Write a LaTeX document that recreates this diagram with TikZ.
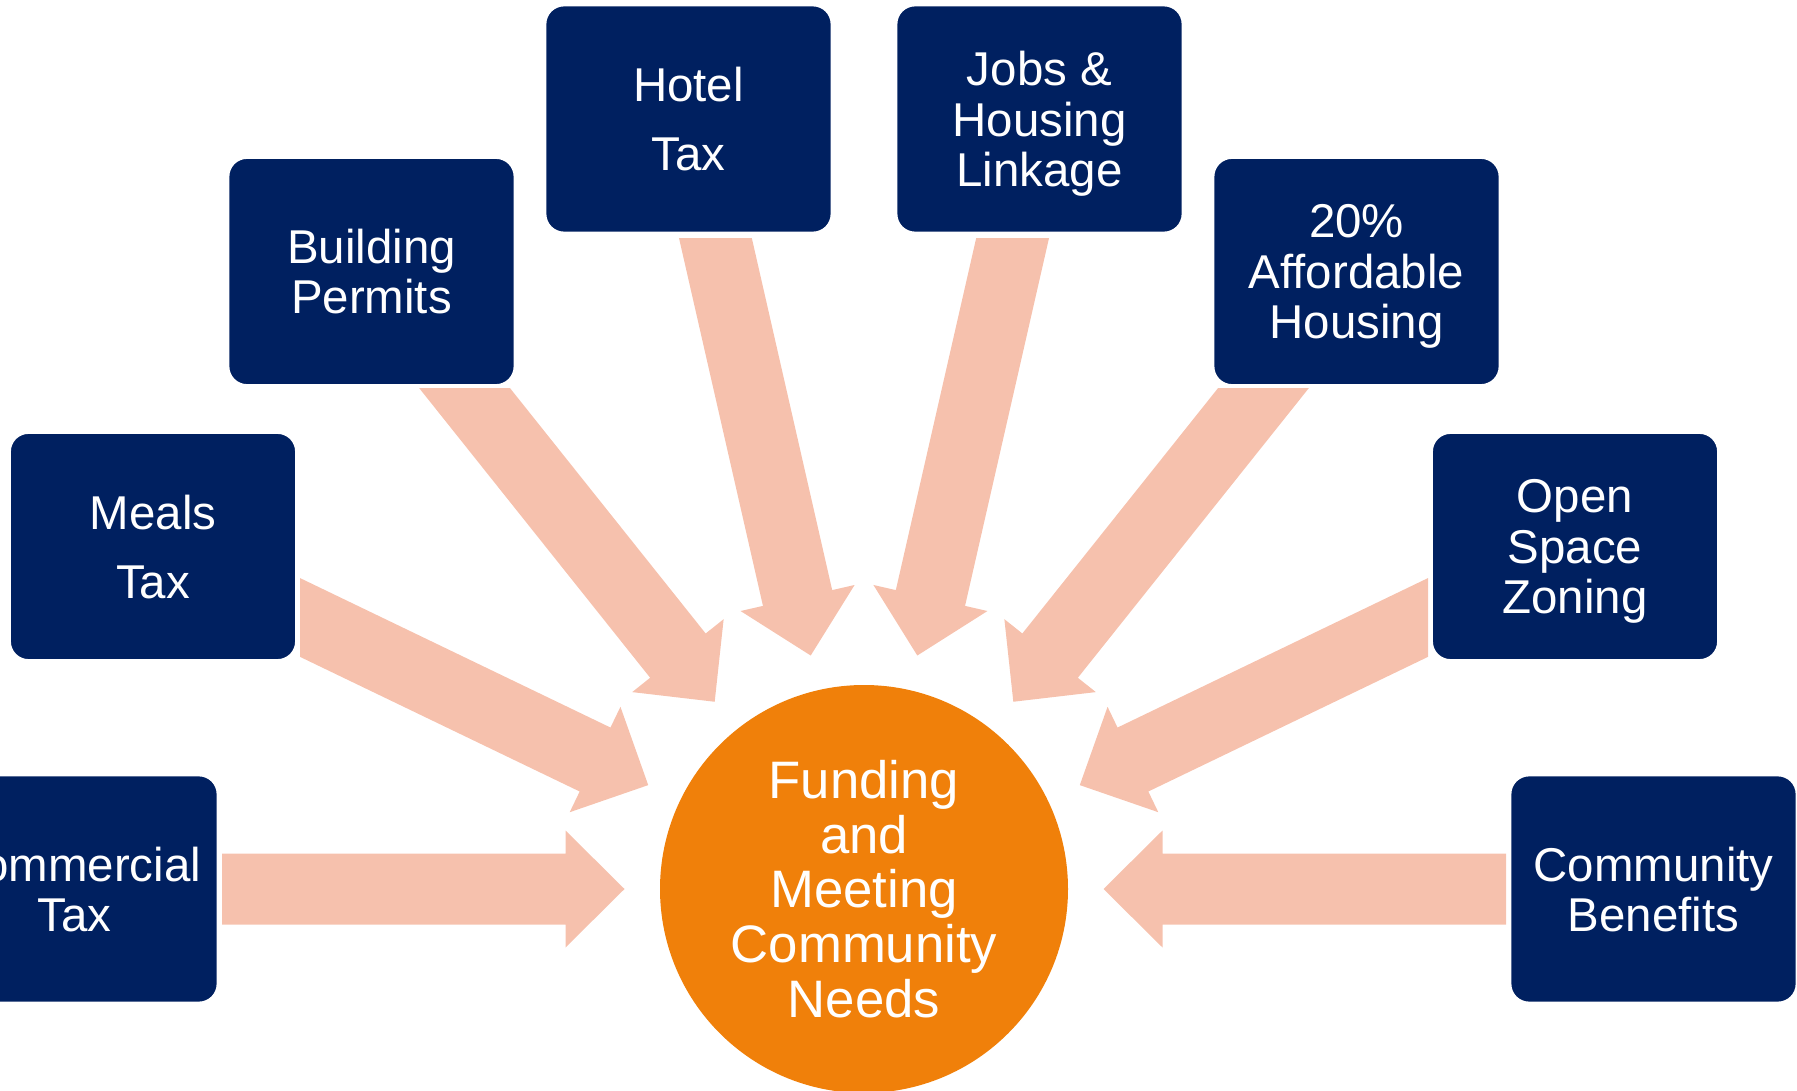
\documentclass[tikz,border=0pt]{standalone}
\usepackage{fontspec}
\setmainfont{Liberation Sans}
\usetikzlibrary{calc, positioning}
\definecolor{boxnavy}{RGB}{0,32,96}
\definecolor{goalorange}{RGB}{240,128,10}
\definecolor{flowpeach}{RGB}{246,193,173}

\begin{document}
\begin{tikzpicture}[x=0.1mm, y=-0.1mm,
    srcbox/.style={rectangle, rounded corners=1.9mm, fill=boxnavy, draw=white, line width=0.8pt,
      minimum width=28.7mm, minimum height=22.8mm, inner sep=0pt, text depth=0pt, text=white,
      align=center, font=\fontsize{13.5}{14.3}\selectfont},
    goal/.style={circle, fill=goalorange, minimum size=40.8mm, inner sep=0pt, text=white,
      align=center, font=\fontsize{15}{15.6}\selectfont},
    flow/.style={fill=flowpeach}]
    \useasboundingbox (0,0) rectangle (1797,1091);

    \node[goal] (needs) at (864,889) {Funding\\and\\Meeting\\Community\\Needs};

    % fat arrows pointing at the circle, tails cut off where the boxes are
    \foreach \ang/\len/\cx/\cy/\cX/\cY in {
        180/64.2/-100/0/1900/1100,
        154.29/72/300/0/1900/1100,
        128.57/72/-100/389/1900/1100,
        102.86/72/-100/239/1900/1100,
        77.14/72/-100/239/1900/1100,
        51.43/72/-100/389/1900/1100,
        25.71/72/-100/0/1428/1100,
        0/64.2/-100/0/1900/1100}
    {
        \begin{scope}
            \clip (\cx,\cy) rectangle (\cX,\cY);
            \coordinate (tip) at ($(needs.center)+(\ang:23.95mm)$);
            \coordinate (tail) at ($(needs.center)+(\ang:\len mm)$);
            \coordinate (h) at ($(tip)!5.9mm!(tail)$);
            \fill[flow] ($(tail)!3.55mm!90:(tip)$) -- ($(h)!3.55mm!90:(tip)$)
                -- ($(h)!5.85mm!90:(tip)$) -- (tip) -- ($(h)!5.85mm!-90:(tip)$)
                -- ($(h)!3.55mm!-90:(tip)$) -- ($(tail)!3.55mm!-90:(tip)$) -- cycle;
        \end{scope}
    }

    \node[srcbox] (commercial) at (74.5,889) {Commercial\\Tax};
    \node[srcbox, font=\fontsize{13.5}{19.6}\selectfont] (meals) at (153,546.5) {Meals\\Tax};
    \node[srcbox] (permits) at (371.5,271.5) {Building\\Permits};
    \node[srcbox, font=\fontsize{13.5}{19.6}\selectfont] (hotel) at (688.5,119) {Hotel\\Tax};
    \node[srcbox] (linkage) at (1039.5,119) {Jobs \&\\Housing\\Linkage};
    \node[srcbox] (affordable) at (1356.5,271.5) {20\%\\Affordable\\Housing};
    \node[srcbox] (openspace) at (1575,546.5) {Open\\Space\\Zoning};
    \node[srcbox] (benefits) at (1653.5,889) {Community\\Benefits};
\end{tikzpicture}
\end{document}
